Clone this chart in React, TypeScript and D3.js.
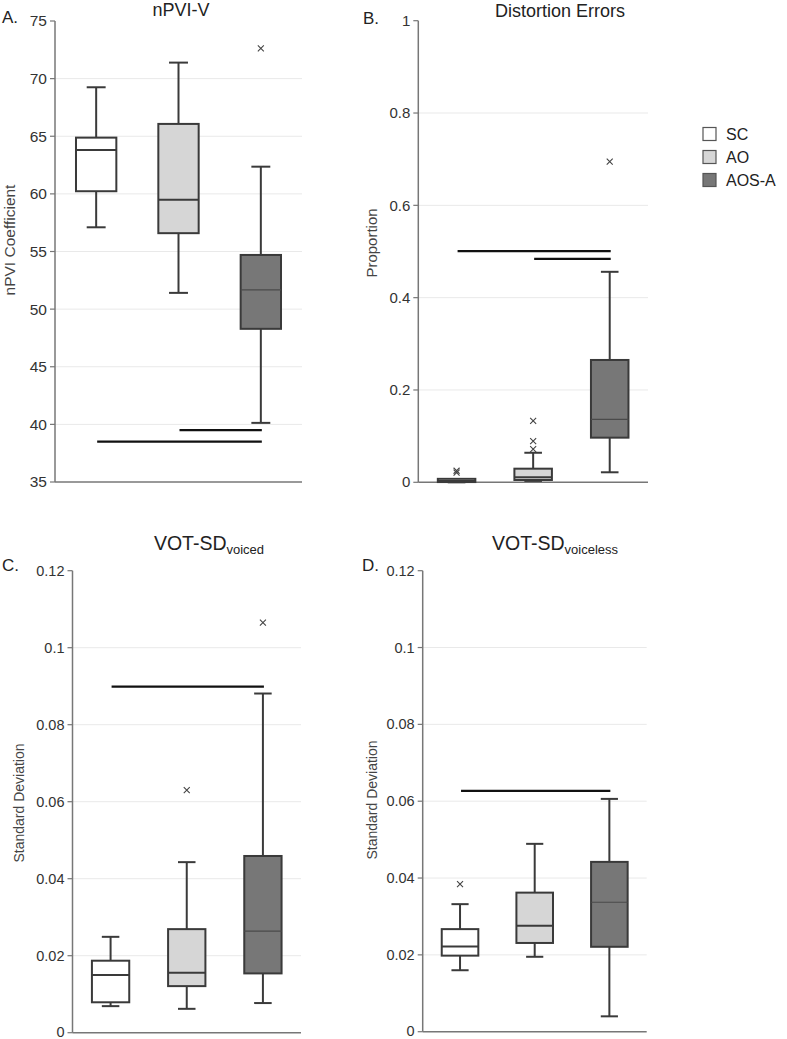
import React from "react";
import * as d3 from "d3";

// ---------- DATA ----------
const groups = ["SC", "AO", "AOS-A"];

// [min, q1, median, q3, max] per group
const npviStats = [
  [57.1, 60.23, 63.81, 64.88, 69.25],
  [51.41, 56.59, 59.48, 66.07, 71.39],
  [40.13, 48.29, 51.67, 54.7, 62.36],
];
const npviOutliers = [[], [], [72.63]];
const npviSig = [
  [0, 2, 38.5],
  [1, 2, 39.5],
];
const npviTicks = [35, 40, 45, 50, 55, 60, 65, 70, 75];

const distStats = [
  [0, 0.0005, 0.003, 0.0075, 0.0075],
  [0.003, 0.005, 0.011, 0.0295, 0.064],
  [0.0217, 0.0967, 0.1365, 0.265, 0.456],
];
const distOutliers = [[0.021, 0.025], [0.072, 0.089, 0.133], [0.6946]];
const distSig = [
  [0, 2, 0.501],
  [1, 2, 0.484],
];
const distTicks = [0, 0.2, 0.4, 0.6, 0.8, 1];

const voicedStats = [
  [0.0069, 0.0079, 0.015, 0.0187, 0.0249],
  [0.0062, 0.0121, 0.0156, 0.0269, 0.0443],
  [0.0077, 0.0154, 0.0264, 0.0459, 0.0881],
];
const voicedOutliers = [[], [0.063], [0.1065]];
const voicedSig = [[0, 2, 0.0899]];

const voicelessStats = [
  [0.016, 0.0198, 0.0222, 0.0267, 0.0332],
  [0.0195, 0.0231, 0.0276, 0.0362, 0.0489],
  [0.004, 0.0221, 0.0337, 0.0442, 0.0606],
];
const voicelessOutliers = [[0.0384], [], []];
const voicelessSig = [[0, 2, 0.0627]];
const sdTicks = [0, 0.02, 0.04, 0.06, 0.08, 0.1, 0.12];

// ---------- STYLE ----------
const FONT = "'Liberation Sans', Arial, Helvetica, sans-serif";
const fills = ["#ffffff", "#d6d6d6", "#777777"];
const boxStroke = "#3a3a3a";
const axisColor = "#777777";
const gridColor = "#e9e9e9";
const textColor = "#333333";

type PanelProps = {
  letter: string;
  letterX: number;
  letterY: number;
  title: string;
  sub?: string;
  titleX: number;
  titleY: number;
  titleSize: number;
  ylabel: string;
  ylabelX: number;
  ylabelY: number;
  ylabelSize: number;
  left: number;
  right: number;
  top: number;
  bottom: number;
  domain: [number, number];
  ticks: number[];
  tickSize: number;
  stats: number[][];
  outliers: number[][];
  sig: number[][];
};

function Panel(p: PanelProps) {
  const x = d3.scaleBand<string>().domain(groups).range([p.left, p.right]);
  const y = d3.scaleLinear().domain(p.domain).range([p.bottom, p.top]);
  const bw = x.bandwidth();
  const boxW = bw * 0.49;
  const capW = bw * 0.23;
  const fmt = (v: number) => String(+v.toFixed(3));
  return (
    <g>
      {p.ticks.slice(1, -1).map((t) => (
        <line key={"g" + t} x1={p.left} x2={p.right} y1={y(t)} y2={y(t)} stroke={gridColor} strokeWidth={1} />
      ))}
      <line x1={p.left} x2={p.left} y1={p.top} y2={p.bottom} stroke={axisColor} strokeWidth={1.5} />
      <line x1={p.left} x2={p.right} y1={p.bottom} y2={p.bottom} stroke={axisColor} strokeWidth={1.5} />
      {p.ticks.map((t, i) => (
        <g key={"t" + t}>
          <line x1={p.left - 5} x2={p.left} y1={y(t)} y2={y(t)} stroke={axisColor} strokeWidth={1.2} />
          <text
            x={p.left - 8}
            y={y(t)}
            dy={i === 0 ? "0.3em" : "0.35em"}
            textAnchor="end"
            fontSize={p.tickSize}
            fill={textColor}
            fontFamily={FONT}
          >
            {fmt(t)}
          </text>
        </g>
      ))}
      {groups.map((gName, i) => {
        const [mn, q1, md, q3, mx] = p.stats[i];
        const cx = (x(gName) as number) + bw / 2;
        return (
          <g key={gName}>
            <line x1={cx} x2={cx} y1={y(mx)} y2={y(q3)} stroke={boxStroke} strokeWidth={2} />
            <line x1={cx} x2={cx} y1={y(q1)} y2={y(mn)} stroke={boxStroke} strokeWidth={2} />
            {mx > q3 && (
              <line x1={cx - capW / 2} x2={cx + capW / 2} y1={y(mx)} y2={y(mx)} stroke={boxStroke} strokeWidth={2} />
            )}
            {mn < q1 && (
              <line x1={cx - capW / 2} x2={cx + capW / 2} y1={y(mn)} y2={y(mn)} stroke={boxStroke} strokeWidth={2} />
            )}
            <rect
              x={cx - boxW / 2}
              width={boxW}
              y={y(q3)}
              height={Math.max(0.5, y(q1) - y(q3))}
              fill={fills[i]}
              stroke={boxStroke}
              strokeWidth={2}
            />
            <line
              x1={cx - boxW / 2}
              x2={cx + boxW / 2}
              y1={y(md)}
              y2={y(md)}
              stroke={i === 2 ? "#4a4a4a" : boxStroke}
              strokeWidth={i === 2 ? 1.2 : 2}
            />
            {p.outliers[i].map((o, k) => {
              const oy = y(o);
              const s = 3;
              return (
                <path
                  key={k}
                  d={`M${cx - s},${oy - s}L${cx + s},${oy + s}M${cx - s},${oy + s}L${cx + s},${oy - s}`}
                  stroke="#444"
                  strokeWidth={1.1}
                  fill="none"
                />
              );
            })}
          </g>
        );
      })}
      {p.sig.map(([a, b, v], k) => {
        const xa = (x(groups[a]) as number) + bw / 2 + 1;
        const xb = (x(groups[b]) as number) + bw / 2 + 1;
        return <line key={"s" + k} x1={xa} x2={xb} y1={y(v)} y2={y(v)} stroke="#111" strokeWidth={2.2} />;
      })}
      <text x={p.letterX} y={p.letterY} fontSize={17} fill="#222" fontFamily={FONT}>
        {p.letter}
      </text>
      <text x={p.titleX} y={p.titleY} textAnchor="middle" fontSize={p.titleSize} fill="#222" fontFamily={FONT}>
        <tspan>{p.title}</tspan>
        {p.sub && (
          <tspan fontSize={13} dy={4}>
            {p.sub}
          </tspan>
        )}
      </text>
      <text
        transform={`translate(${p.ylabelX},${p.ylabelY}) rotate(-90)`}
        textAnchor="middle"
        dy="0.35em"
        fontSize={p.ylabelSize}
        fill="#444"
        fontFamily={FONT}
      >
        {p.ylabel}
      </text>
    </g>
  );
}

export default function App() {
  return (
    <svg
      width={787}
      height={1039}
      viewBox="0 0 787 1039"
      style={{ position: "absolute", left: 0, top: 0, background: "#fff" }}
    >
      <rect x={0} y={0} width={787} height={1039} fill="#fff" />
      <Panel
        letter="A."
        letterX={2}
        letterY={23}
        title="nPVI-V"
        titleX={181}
        titleY={16}
        titleSize={18}
        ylabel="nPVI Coefficient"
        ylabelX={10}
        ylabelY={240}
        ylabelSize={15.5}
        left={55}
        right={302}
        top={21}
        bottom={482}
        domain={[35, 75]}
        ticks={npviTicks}
        tickSize={15.5}
        stats={npviStats}
        outliers={npviOutliers}
        sig={npviSig}
      />
      <Panel
        letter="B."
        letterX={363}
        letterY={24}
        title="Distortion Errors"
        titleX={560}
        titleY={17}
        titleSize={18}
        ylabel="Proportion"
        ylabelX={372}
        ylabelY={243}
        ylabelSize={15}
        left={418.3}
        right={648}
        top={20.7}
        bottom={482.3}
        domain={[0, 1]}
        ticks={distTicks}
        tickSize={15}
        stats={distStats}
        outliers={distOutliers}
        sig={distSig}
      />
      <Panel
        letter="C."
        letterX={2}
        letterY={571}
        title="VOT-SD"
        sub="voiced"
        titleX={209}
        titleY={550}
        titleSize={19.5}
        ylabel="Standard Deviation"
        ylabelX={19}
        ylabelY={803}
        ylabelSize={14}
        left={72.5}
        right={301}
        top={570.7}
        bottom={1032.7}
        domain={[0, 0.12]}
        ticks={sdTicks}
        tickSize={14.5}
        stats={voicedStats}
        outliers={voicedOutliers}
        sig={voicedSig}
      />
      <Panel
        letter="D."
        letterX={362}
        letterY={571}
        title="VOT-SD"
        sub="voiceless"
        titleX={555}
        titleY={550}
        titleSize={19.5}
        ylabel="Standard Deviation"
        ylabelX={372}
        ylabelY={800}
        ylabelSize={14}
        left={422.7}
        right={646.7}
        top={570.7}
        bottom={1031.7}
        domain={[0, 0.12]}
        ticks={sdTicks}
        tickSize={14.5}
        stats={voicelessStats}
        outliers={voicelessOutliers}
        sig={voicelessSig}
      />
      {groups.map((gName, i) => (
        <g key={"l" + gName} transform={`translate(703,${127.5 + i * 23})`}>
          <rect x={0} y={0} width={13} height={13} fill={fills[i]} stroke="#555" strokeWidth={1.2} />
          <text x={23} y={6.5} dy="0.36em" fontSize={16} fill="#222" fontFamily={FONT}>
            {gName}
          </text>
        </g>
      ))}
    </svg>
  );
}
